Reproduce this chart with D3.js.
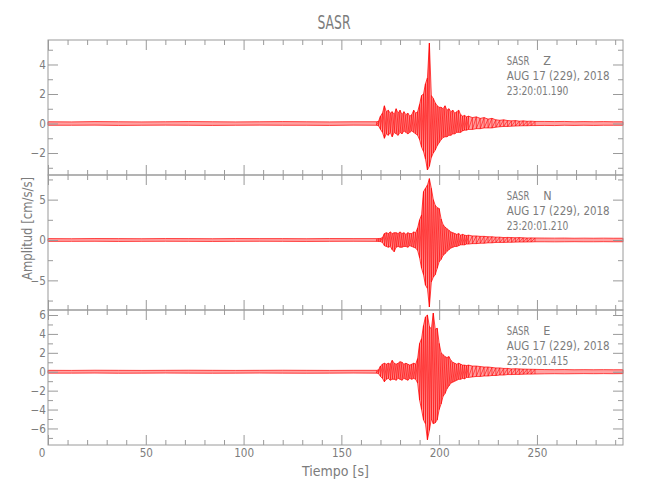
<!DOCTYPE html>
<html><head><meta charset="utf-8">
<script src="https://cdn.jsdelivr.net/npm/d3@7"></script>
<style>
body{margin:0;background:#fff}
svg text{font-family:"Liberation Sans Narrow","DejaVu Sans Condensed","Roboto Condensed",sans-serif;fill:#7c7c7c}
</style></head><body>
<svg id="c" width="650" height="500"></svg>
<script>
// ---- data ----
const chartTitle = "SASR";
const xDomain = [0, 294];
const xMajorTicks = [0, 50, 100, 150, 200, 250];
const xMinorTicks = [10,20,30,40,60,70,80,90,110,120,130,140,160,170,180,190,210,220,230,240,260,270,280,290];

// time knots (s) of the amplitude envelope samples
const timeKnots = [0,12,24,36,48,60,72,84,96,108,120,132,144,156,168,
  169,170,171,172,173,174,175,176,177,178,
  179,180,181,182,183,184,185,186,187,188,
  189,190,191,192,193,194,195,196,197,198,
  199,200,201,202,203,204,205,206,207,208,
  209,210,211,212,213,214,215,
  217,219,221,223,225,227,229,231,233,235,237,239,241,243,245,247,249,
  254,259,264,269,274,279,284,289,294];

// Z component (upper / lower envelope, cm/s/s)
const zMax = [0.12,0.11,0.13,0.12,0.11,0.12,0.13,0.12,0.11,0.12,0.13,0.12,0.11,0.12,0.12,
  0.15,0.5,0.7,1.2,0.8,0.9,0.7,0.8,0.6,1.0,
  0.7,0.9,0.6,0.8,0.6,0.7,0.5,0.6,0.9,0.7,
  0.8,1.3,1.9,2.0,2.7,3.1,5.45,1.9,1.7,1.4,
  1.2,1.1,1.1,1.0,1.2,0.9,1.0,0.8,0.9,0.7,
  0.8,0.9,0.6,0.5,0.55,0.45,0.5,
  0.4,0.45,0.35,0.4,0.3,0.35,0.25,0.22,0.25,0.2,0.18,0.2,0.16,0.18,0.15,0.16,0.14,
  0.14,0.13,0.14,0.12,0.13,0.12,0.13,0.12,0.12];
const zMin = [-0.12,-0.12,-0.11,-0.13,-0.12,-0.11,-0.12,-0.13,-0.12,-0.11,-0.12,-0.12,-0.13,-0.11,-0.12,
  -0.15,-0.4,-0.6,-1.0,-0.7,-0.8,-0.6,-0.9,-0.6,-0.7,
  -0.8,-0.6,-0.7,-0.5,-0.6,-0.7,-0.6,-0.5,-0.6,-0.7,
  -0.8,-1.1,-1.6,-1.9,-2.4,-3.15,-2.9,-2.3,-2.0,-1.8,
  -1.5,-1.3,-1.1,-0.95,-0.9,-0.9,-0.8,-0.8,-0.7,-0.7,
  -0.6,-0.6,-0.6,-0.5,-0.45,-0.45,-0.4,
  -0.4,-0.35,-0.35,-0.3,-0.3,-0.3,-0.25,-0.22,-0.2,-0.2,-0.18,-0.17,-0.16,-0.15,-0.15,-0.14,-0.14,
  -0.13,-0.14,-0.12,-0.13,-0.12,-0.13,-0.12,-0.12,-0.12];

// N component
const nMax = [0.17,0.16,0.18,0.17,0.16,0.18,0.17,0.16,0.18,0.17,0.17,0.16,0.18,0.17,0.17,
  0.18,0.2,0.3,0.8,0.9,0.8,1.0,0.8,0.9,0.9,
  0.8,1.0,0.8,0.9,0.7,0.9,0.8,0.8,1.0,0.9,
  1.5,2.5,3.1,6.0,6.4,6.8,7.6,6.4,5.0,4.3,
  4.0,3.9,2.6,1.9,1.6,1.4,1.2,1.0,0.9,0.8,
  0.7,0.8,0.6,0.7,0.6,0.55,0.6,
  0.5,0.5,0.45,0.45,0.4,0.4,0.35,0.35,0.3,0.32,0.3,0.28,0.3,0.27,0.25,0.26,0.25,
  0.24,0.23,0.24,0.22,0.23,0.22,0.23,0.22,0.22];
const nMin = [-0.17,-0.17,-0.16,-0.18,-0.17,-0.16,-0.17,-0.18,-0.17,-0.16,-0.17,-0.18,-0.17,-0.16,-0.17,
  -0.18,-0.2,-0.3,-0.7,-0.8,-0.9,-0.8,-1.2,-1.45,-0.9,
  -0.8,-0.9,-0.9,-0.8,-0.8,-0.9,-0.7,-0.8,-0.9,-1.0,
  -1.3,-2.2,-3.5,-4.3,-5.6,-6.0,-8.3,-5.2,-4.6,-4.3,
  -3.5,-2.7,-2.4,-1.9,-1.7,-1.4,-1.2,-1.0,-0.9,-0.8,
  -0.8,-0.7,-0.6,-0.6,-0.6,-0.5,-0.5,
  -0.45,-0.45,-0.4,-0.4,-0.35,-0.35,-0.3,-0.3,-0.3,-0.28,-0.28,-0.26,-0.25,-0.25,-0.24,-0.24,-0.22,
  -0.22,-0.23,-0.22,-0.21,-0.22,-0.22,-0.21,-0.22,-0.22];

// E component
const eMax = [0.15,0.14,0.16,0.15,0.14,0.15,0.16,0.15,0.14,0.15,0.16,0.15,0.14,0.15,0.15,
  0.2,0.6,0.8,0.9,0.8,0.9,0.8,1.2,0.9,0.8,
  0.9,1.06,1.0,0.8,0.9,0.8,0.7,0.8,0.9,0.8,
  1.4,3.0,3.5,4.9,5.8,6.0,4.8,4.5,6.2,4.5,
  4.6,3.0,2.0,1.8,1.6,1.5,1.6,1.2,1.0,0.9,
  0.8,0.9,0.8,0.7,0.7,0.65,0.7,
  0.6,0.6,0.55,0.5,0.5,0.45,0.4,0.4,0.35,0.35,0.3,0.32,0.3,0.28,0.27,0.26,0.25,
  0.23,0.22,0.23,0.21,0.22,0.21,0.22,0.21,0.21];
const eMin = [-0.15,-0.15,-0.14,-0.16,-0.15,-0.14,-0.15,-0.16,-0.15,-0.14,-0.15,-0.16,-0.15,-0.14,-0.15,
  -0.2,-0.5,-0.7,-1.06,-0.8,-0.7,-0.9,-0.8,-0.8,-0.9,
  -0.7,-0.8,-0.9,-0.7,-0.8,-0.9,-0.7,-0.8,-0.7,-0.8,
  -1.2,-3.0,-4.0,-5.1,-5.5,-7.2,-6.2,-5.0,-5.5,-5.4,
  -5.1,-4.0,-3.4,-2.6,-2.3,-1.8,-1.5,-1.2,-1.1,-1.0,
  -0.9,-0.8,-0.8,-0.7,-0.75,-0.6,-0.6,
  -0.55,-0.5,-0.5,-0.45,-0.45,-0.4,-0.4,-0.35,-0.35,-0.3,-0.3,-0.28,-0.28,-0.26,-0.25,-0.25,-0.24,
  -0.22,-0.21,-0.22,-0.21,-0.2,-0.21,-0.2,-0.21,-0.2];

const componentNames = ["Z", "N", "E"];
const startTimes = ["23:20:01.190", "23:20:01.210", "23:20:01.415"];
const dateLabel = "AUG 17 (229), 2018";
const yDomains = [[-3.49, 5.66], [-8.67, 8.05], [-7.75, 6.53]];
const yMajorTicks = [[-2, 0, 2, 4], [-5, 0, 5], [-6, -4, -2, 0, 2, 4, 6]];
const yMinorTicks = [[-3, -1, 1, 3, 5], [-7.5, -2.5, 2.5, 7.5], [-7, -5, -3, -1, 1, 3, 5]];
const xLabel = "Tiempo [s]";
const yLabel = "Amplitud [cm/s/s]";

// ---- drawing ----
const svg = d3.select("#c");
const left = 48, right = 623, top0 = 40, panelH = 135;
const axisColor = "#9a9a9a";
const x = d3.scaleLinear().domain(xDomain).range([left, right]);

const series = [[zMax, zMin], [nMax, nMin], [eMax, eMin]];

function styleAxis(g) {
  g.select(".domain").remove();
  g.selectAll("line").attr("stroke", axisColor);
  g.selectAll("text").attr("fill", "#7c7c7c").style("font-size", "11.6px")
    .attr("font-family", null);
}

series.forEach(([mx, mn], p) => {
  const top = top0 + p * panelH, bot = top + panelH;
  const y = d3.scaleLinear().domain(yDomains[p]).range([bot, top]);
  const g = svg.append("g");

  // envelope fill with outline
  const area = d3.area()
    .x((d, i) => x(timeKnots[i]))
    .y0((d, i) => y(mn[i]))
    .y1((d, i) => y(mx[i]));
  g.append("path").datum(mx).attr("d", area)
    .attr("fill", "#ff3030").attr("fill-opacity", 0.45)
    .attr("stroke", "#ff0000").attr("stroke-width", 0.7);

  // oscillating trace where samples are dense (<= 2 s spacing)
  const dense = i => (i > 0 && timeKnots[i] - timeKnots[i - 1] <= 2) ||
                     (i < timeKnots.length - 1 && timeKnots[i + 1] - timeKnots[i] <= 2);
  const pts = timeKnots.flatMap((t, i) => [[t, mx[i], dense(i)], [t, mn[i], dense(i)]]);
  const line = d3.line().defined(d => d[2]).x(d => x(d[0])).y(d => y(d[1]));
  g.append("path").datum(pts).attr("d", line)
    .attr("fill", "none").attr("stroke", "#ff0000").attr("stroke-width", 0.6);

  // y axes (left with labels, right ticks only)
  g.append("g").attr("transform", `translate(${left},0)`)
    .call(d3.axisLeft(y).tickValues(yMajorTicks[p]).tickSize(-10).tickPadding(2).tickFormat(d3.format("d")))
    .call(styleAxis);
  g.append("g").attr("transform", `translate(${left},0)`)
    .call(d3.axisLeft(y).tickValues(yMinorTicks[p]).tickSize(-5).tickFormat(""))
    .call(styleAxis);
  g.append("g").attr("transform", `translate(${right},0)`)
    .call(d3.axisRight(y).tickValues(yMajorTicks[p]).tickSize(-10).tickFormat(""))
    .call(styleAxis);
  g.append("g").attr("transform", `translate(${right},0)`)
    .call(d3.axisRight(y).tickValues(yMinorTicks[p]).tickSize(-5).tickFormat(""))
    .call(styleAxis);

  // x axes top and bottom (ticks inward)
  g.append("g").attr("transform", `translate(0,${top})`)
    .call(d3.axisTop(x).tickValues(xMajorTicks).tickSize(-10).tickFormat(""))
    .call(styleAxis);
  g.append("g").attr("transform", `translate(0,${top})`)
    .call(d3.axisTop(x).tickValues(xMinorTicks).tickSize(-5).tickFormat(""))
    .call(styleAxis);
  const bx = g.append("g").attr("transform", `translate(0,${bot})`)
    .call(d3.axisBottom(x).tickValues(xMajorTicks).tickSize(-10).tickPadding(4)
      .tickFormat(p === 2 ? d3.format("d") : ""))
    .call(styleAxis);
  bx.selectAll("text").attr("dx", d => d === 0 ? -6.5 : 0);
  g.append("g").attr("transform", `translate(0,${bot})`)
    .call(d3.axisBottom(x).tickValues(xMinorTicks).tickSize(-5).tickFormat(""))
    .call(styleAxis);

  // frame
  g.append("rect").attr("x", left).attr("y", top).attr("width", right - left).attr("height", panelH)
    .attr("fill", "none").attr("stroke", axisColor).attr("stroke-width", 1);

  // annotation
  const ax = 506.7;
  g.append("text").attr("x", ax).attr("y", top + 25).style("font-size", "12.5px")
    .attr("textLength", 22.7).attr("lengthAdjust", "spacingAndGlyphs").text(chartTitle);
  g.append("text").attr("x", 543.3).attr("y", top + 25).style("font-size", "12.5px")
    .text(componentNames[p]);
  g.append("text").attr("x", ax).attr("y", top + 40).style("font-size", "12.5px")
    .attr("textLength", 103).attr("lengthAdjust", "spacingAndGlyphs").text(dateLabel);
  g.append("text").attr("x", ax).attr("y", top + 54.5).style("font-size", "12.5px")
    .attr("textLength", 61.7).attr("lengthAdjust", "spacingAndGlyphs").text(startTimes[p]);
});

// title and axis labels
svg.append("text").attr("x", 334).attr("y", 29.3).attr("text-anchor", "middle")
  .style("font-size", "19.5px").attr("textLength", 33).attr("lengthAdjust", "spacingAndGlyphs")
  .text(chartTitle);
svg.append("text").attr("x", (left + right) / 2).attr("y", 476).attr("text-anchor", "middle")
  .style("font-size", "14px").text(xLabel);
svg.append("text").attr("transform", "translate(31.5,228.5) rotate(-90)").attr("text-anchor", "middle")
  .style("font-size", "14px").attr("textLength", 103).attr("lengthAdjust", "spacingAndGlyphs")
  .text(yLabel);
</script>
</body></html>
